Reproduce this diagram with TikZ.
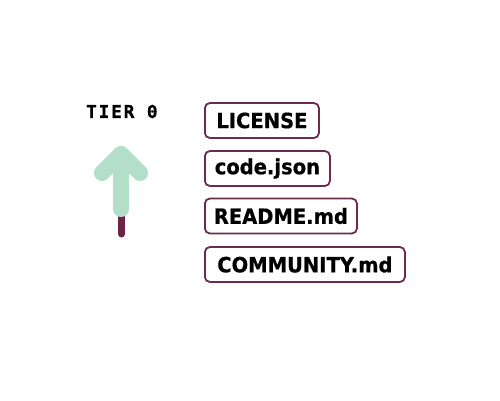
\documentclass[tikz,border=0pt]{standalone}
\usepackage{fontspec}
\setmainfont{DejaVu Sans}
\newfontfamily\boxfont[FakeStretch=0.93,FakeBold=0.6]{DejaVu Sans Bold}
\newfontfamily\monob[LetterSpace=10,FakeBold=0.8]{DejaVu Sans Mono Bold}
\definecolor{mint}{HTML}{B3DFCA}
\definecolor{plum}{HTML}{6B2446}
\definecolor{boxline}{HTML}{6D2A4F}
\begin{document}
\begin{tikzpicture}[x=1pt,y=-1pt,
  filebox/.style={draw=boxline,line width=1.8pt,rounded corners=5pt,fill=white,
    anchor=west,minimum height=35pt,inner xsep=7pt,inner ysep=0pt,
    font=\fontsize{21}{24}\boxfont,text=black},
  tierlabel/.style={font=\fontsize{17.8}{20}\monob,text=black,anchor=west,inner sep=0pt}]
\useasboundingbox (0,0) rectangle (500,400);
\node[tierlabel] (tier) at (86,111.5) {TIER 0};
% arrow
\coordinate (stubtop) at (121.5,205);
\coordinate (stubbot) at (121.5,234);
\coordinate (apex) at (121,154);
\coordinate (shaftbot) at (121,209);
\coordinate (armL) at (102,173);
\coordinate (armR) at (140,173);
\draw[plum,line width=7pt,line cap=round] (stubtop) -- (stubbot);
\draw[mint,line width=16pt,line cap=round,line join=round] (armL) -- (apex) -- (armR);
\draw[mint,line width=16pt,line cap=round] (apex) -- (shaftbot);
% files
\node[filebox,minimum width=114pt] (lic) at (204,120.5) {LICENSE};
\node[filebox,minimum width=125pt] (code) at (204,168.5) {code.json};
\node[filebox,minimum width=152pt] (readme) at (204,216) {README.md};
\node[filebox,minimum width=200pt] (comm) at (204,264.5) {COMMUNITY.md};
\end{tikzpicture}
\end{document}
